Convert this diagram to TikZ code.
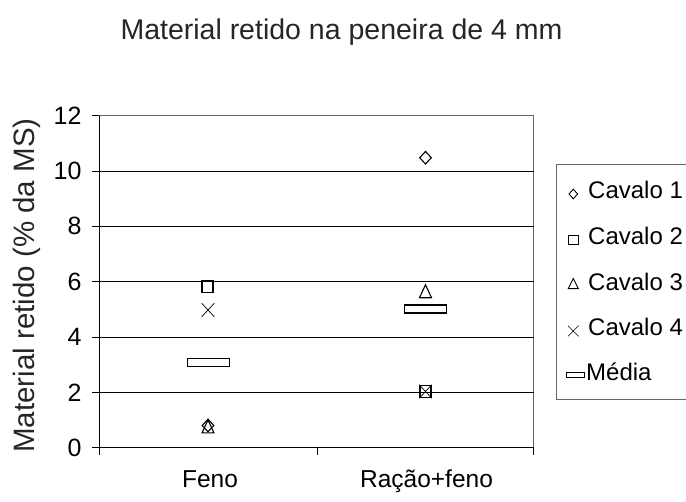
\documentclass[tikz,border=0pt]{standalone}
\usepackage{fontspec}
\setmainfont{Liberation Sans}
\usetikzlibrary{shapes.geometric,shapes.misc}
\definecolor{framegray}{HTML}{666666}
\definecolor{lighttext}{HTML}{262626}
\begin{document}
\begin{tikzpicture}[x=1pt,y=-1pt,
  mk/.style={draw=black,inner sep=0pt,line width=1.1pt},
  dia/.style={mk,diamond,minimum width=12pt,minimum height=13pt},
  sqr/.style={mk,rectangle,minimum width=11pt,minimum height=12pt},
  tri/.style={mk,isosceles triangle,isosceles triangle stretches,shape border rotate=90,minimum width=12pt,minimum height=13pt,anchor=south},
  crs/.style={draw=black,cross out,inner sep=0pt,minimum width=12pt,minimum height=13pt,line width=0.7pt},
  med/.style={mk,rectangle,minimum width=42pt,minimum height=8pt},
  ldia/.style={mk,line width=0.9pt,diamond,minimum width=9pt,minimum height=10pt},
  lsqr/.style={mk,line width=0.9pt,rectangle,minimum width=9.5pt,minimum height=9pt},
  ltri/.style={mk,line width=0.9pt,isosceles triangle,isosceles triangle stretches,shape border rotate=90,minimum width=10pt,minimum height=10pt},
  lcrs/.style={draw=black,cross out,inner sep=0pt,minimum width=10pt,minimum height=10pt,line width=0.6pt},
  lmed/.style={mk,line width=0.9pt,rectangle,minimum width=18pt,minimum height=5pt},
  ticklbl/.style={anchor=east,inner sep=0pt,font=\fontsize{25}{28}\selectfont},
  catlbl/.style={anchor=base,inner sep=0pt,font=\fontsize{24.5}{28}\selectfont},
  leglbl/.style={anchor=base west,inner sep=0pt,font=\fontsize{24}{27}\selectfont},
  grid/.style={black,line width=0.8pt},
  axis/.style={black,line width=0.9pt},
  frame/.style={framegray,line width=1.5pt},
]
\useasboundingbox (0,0) rectangle (686,502);
\fill[white] (0,0) rectangle (686,502);

% title
\node[anchor=base,inner sep=0pt,text=lighttext,font=\fontsize{28.5}{32}\selectfont] (title) at (341.5,39.3) {Material retido na peneira de 4 mm};

% y label
\node[anchor=base,rotate=90,inner sep=0pt,text=lighttext,font=\fontsize{29.5}{33}\selectfont] (ylabel) at (34.3,285.5) {Material retido (\% da MS)};

% plot frame (top, right)
\draw[frame] (99.3,115.7) -- (533.5,115.7) -- (533.5,447.7);

% gridlines
\foreach \v in {2,4,6,8,10} {
  \draw[grid] (99.3,{447.7-27.67*\v}) -- (533.5,{447.7-27.67*\v});
}

% axes
\draw[axis] (99.3,115.7) -- (99.3,455);
\draw[axis] (99.3,447.7) -- (533.5,447.7);
\foreach \v in {0,2,...,12} {
  \draw[axis] (92,{447.7-27.67*\v}) -- (99.3,{447.7-27.67*\v});
}
\draw[axis] (317.7,447.7) -- (317.7,455);
\draw[axis] (533.5,447.7) -- (533.5,455);

% tick labels
\node[ticklbl] (t0) at (81.7,447.7) {0};
\node[ticklbl] (t2) at (81.7,392.36) {2};
\node[ticklbl] (t4) at (81.7,337.02) {4};
\node[ticklbl] (t6) at (81.7,281.68) {6};
\node[ticklbl] (t8) at (81.7,226.34) {8};
\node[ticklbl] (t10) at (81.7,171.0) {10};
\node[ticklbl] (t12) at (81.7,115.66) {12};

% category labels
\node[catlbl] (feno) at (210,487.5) {Feno};
\node[catlbl] (racao) at (426.5,487.5) {Ração+feno};

% data: Feno
\node[med] (fm) at (208.3,362.5) {};
\node[sqr] (f2) at (207.5,286.7) {};
\node[crs] (f4) at (208,310) {};
\node[dia] (f1) at (208,425.5) {};
\node[tri] (f3) at (208,433.5) {};

% data: Racao+feno
\node[med] (rm) at (425.5,309) {};
\node[dia] (r1) at (425.5,157.7) {};
\node[tri] (r3) at (425.5,298.3) {};
\node[sqr] (r2) at (425.5,391.5) {};
\node[crs] (r4) at (425.5,391.5) {};

% legend
\draw[framegray,line width=1pt] (700,165) -- (556,165) -- (556,400) -- (700,400);
\node[ldia] (l1m) at (573.3,194) {};
\node[leglbl] (l1) at (588,198.6) {Cavalo 1};
\node[lsqr] (l2m) at (573.3,240) {};
\node[leglbl] (l2) at (588,244.8) {Cavalo 2};
\node[ltri] (l3m) at (573.3,285.5) {};
\node[leglbl] (l3) at (588,290.1) {Cavalo 3};
\node[lcrs] (l4m) at (573.3,331) {};
\node[leglbl] (l4) at (588,335.4) {Cavalo 4};
\node[lmed] (l5m) at (575,374.5) {};
\node[leglbl] (l5) at (586,380.6) {Média};
\end{tikzpicture}
\end{document}
